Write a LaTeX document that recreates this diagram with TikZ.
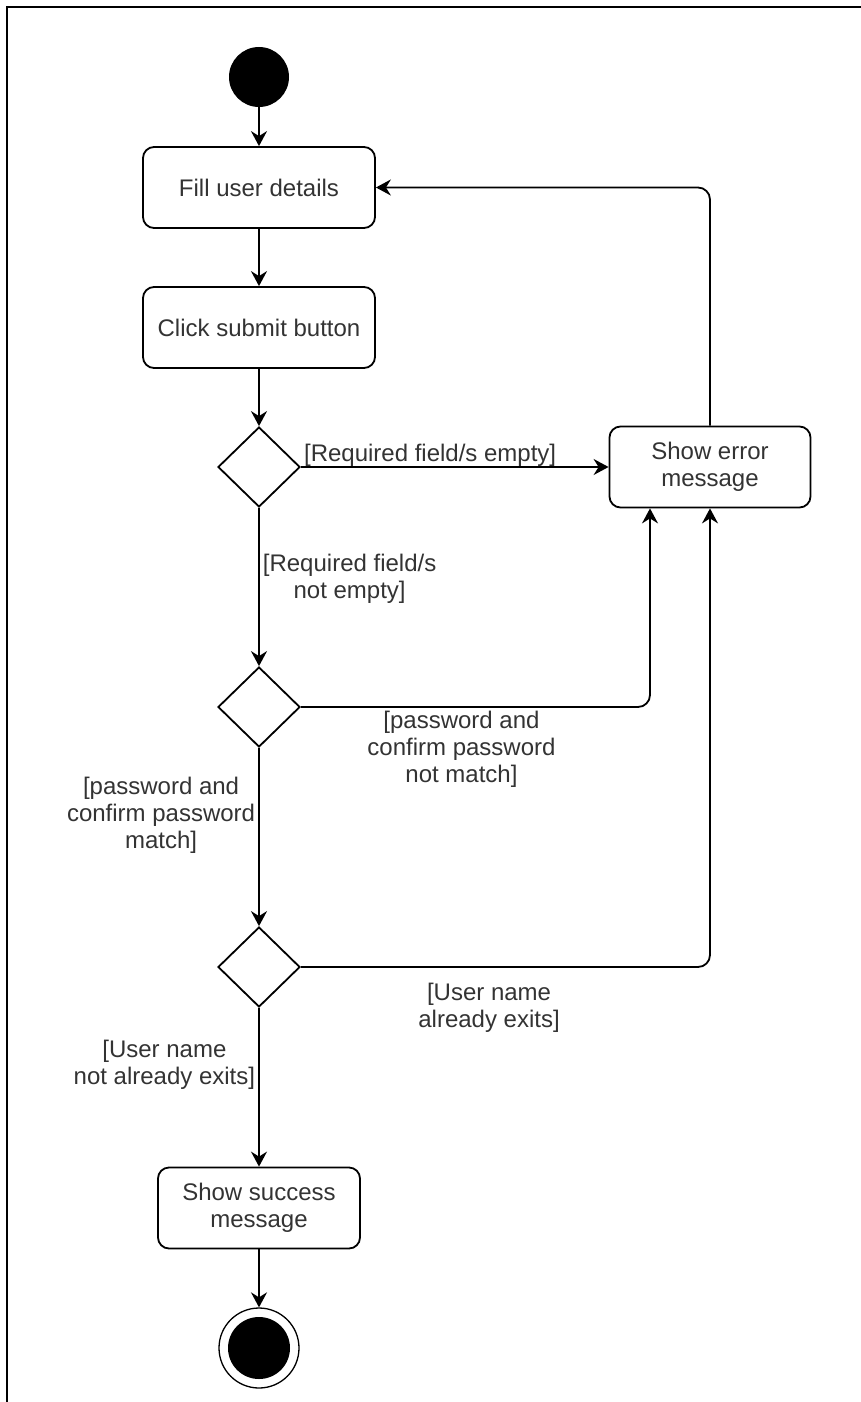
\documentclass[tikz,border=0pt]{standalone}
\usepackage{fontspec}
\setmainfont{Liberation Sans}
\usetikzlibrary{shapes.geometric,arrows.meta}

\begin{document}
\begin{tikzpicture}[x=1pt, y=-1pt,
        font=\fontsize{24}{27}\selectfont, text=black!80,
        action/.style={draw, line width=1.8pt, rounded corners=11pt, minimum height=81pt, align=center, inner sep=0pt},
        decision/.style={draw, diamond, line width=1.8pt, minimum width=82pt, minimum height=80pt, inner sep=0pt},
        flow/.style={-{Stealth[length=15pt, width=16pt, inset=5pt]}, line width=1.8pt, rounded corners=12pt},
        guard/.style={align=center, inner sep=3pt}]
        \useasboundingbox (0, 0) rectangle (861, 1402);
        \draw[line width=1.8pt] (7, 1402) -- (7, 7) -- (861, 7);

        \node[circle, fill, minimum size=60pt] (start) at (259, 77) {};
        \node[action, minimum width=232pt] (fill) at (259, 187.5) {Fill user details};
        \node[action, minimum width=232pt] (click) at (259, 327.5) {Click submit button};
        \node[decision] (empty) at (259, 467) {};
        \node[action, minimum width=201pt] (error) at (710, 467) {Show error\\message};
        \node[decision] (match) at (259, 707) {};
        \node[decision] (exists) at (259, 967) {};
        \node[action, minimum width=202pt] (success) at (259, 1208) {Show success\\message};
        \node[circle, draw, line width=1.3pt, minimum size=80pt] (end) at (259, 1348) {};
        \node[circle, fill, minimum size=62pt] (enddot) at (end) {};

        \draw[flow] (start) -- (fill);
        \draw[flow] (fill) -- (click);
        \draw[flow] (click) -- (empty);
        \draw[flow] (empty) -- (error) node[pos=0.42, above, inner sep=0pt] (lblempty) {[Required field/s empty]};
        \draw[flow] (empty) -- (match) node[pos=0.45, right, guard] (lblfilled) {[Required field/s\\not empty]};
        \draw[flow] (match.east) -| ([xshift=-60pt]error.south) node[pos=0.23, below, guard] (lblnomatch) {[password and\\confirm password\\not match]};
        \draw[flow] (match) -- (exists) node[pos=0.38, left, guard] (lblmatch) {[password and\\confirm password\\match]};
        \draw[flow] (exists.east) -| (error.south) node[pos=0.23, below=12pt, guard] (lbltaken) {[User name\\already exits]};
        \draw[flow] (exists) -- (success) node[pos=0.36, left, guard] (lblfree) {[User name\\not already exits]};
        \draw[flow] (success) -- (end);
        \draw[flow] (error.north) |- (fill.east);
    \end{tikzpicture}
\end{document}
